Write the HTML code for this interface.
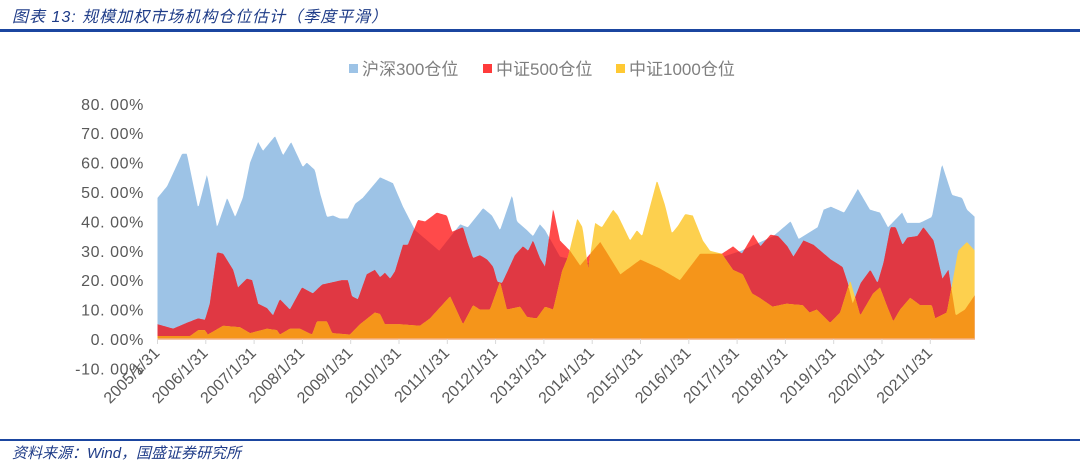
<!DOCTYPE html>
<html><head><meta charset="utf-8">
<style>
html,body{margin:0;padding:0;background:#fff;}
body{width:1080px;height:465px;position:relative;overflow:hidden;font-family:"Liberation Sans","Noto Sans CJK SC",sans-serif;}
.title{position:absolute;left:12px;top:3px;font-size:16px;font-style:italic;color:#1f3c88;letter-spacing:1px;}
.rule{position:absolute;left:0;width:1080px;background:#1b46a0;}
.src{position:absolute;left:12px;top:442px;font-size:15px;font-style:italic;color:#1f3c88;}
</style></head><body>
<div class="title">图表 13:  规模加权市场机构仓位估计（季度平滑）</div>
<div class="rule" style="top:29px;height:3px"></div>
<div class="rule" style="top:439px;height:2px"></div>
<div class="src">资料来源：Wind，国盛证券研究所</div>
<svg id="chart" width="1080" height="465" style="position:absolute;left:0;top:0"></svg>
<script>
const tickLabels=["2005/1/31","2006/1/31","2007/1/31","2008/1/31","2009/1/31","2010/1/31","2011/1/31","2012/1/31","2013/1/31","2014/1/31","2015/1/31","2016/1/31","2017/1/31","2018/1/31","2019/1/31","2020/1/31","2021/1/31"];
const yTicks=[-10,0,10,20,30,40,50,60,70,80];
const seriesNames=["沪深300仓位","中证500仓位","中证1000仓位"];
const hs300Months=[0,2.4,6.1,7.3,10.1,12.3,14.8,17.3,19.3,21.2,23,25,26.2,29.2,31.2,33.2,36.1,37.1,39.1,40.4,42.1,43.6,45.3,47.3,49.1,51,55.3,58.5,61,64,70,75.2,77.1,80.9,83.1,85.1,88.1,89.3,91.8,93.3,95,96.3,100,110,122,134,145,153,157.3,159.3,164,165.5,167.3,170.6,174,177,179.5,181.5,185,186.2,189.4,192.4,194.9,197.4,199.9,201.1,203.1];
const hs300Values=[48,52,63,63,44.5,56,38,48,41.5,48,60,67,64,69,62.5,67,58.5,60,57.5,49.5,41.5,42,41,41,46,48,55,53,45,37,30,39,38,44.5,42,37,49,40,37,35,39,37,28,25,22,25,30,35,40,34,38,44,45,43,51,44,43,38,43,39.5,39.5,41.5,59.5,49,48,44,41.5];
const csi500Months=[0,3.9,7.3,10.1,11.8,13,14.8,16.3,18.8,20,22.2,23.5,25,27.2,28.7,30.4,32.9,35.9,38.6,40.9,45.8,47.3,48.3,49.8,52,54,55.3,56.5,57.8,59,61,62.2,64.7,66.5,69.4,71.9,73.2,75.9,77.1,78.4,80.1,81.9,83.4,84.4,85.6,86.8,88.8,90.8,92.1,93.3,95,96.3,98.3,100,102.5,105,110,115,120,124.8,129.8,134.8,140.2,143,145.2,148,149.8,152.3,154.2,156.5,158,160.5,163,167.3,170.2,171.5,172.7,174.7,177.1,178.9,180.4,182.1,183.4,185.1,186.3,188.8,190.3,192.8,195,196.5,198.3,200.6,203.1];
const csi500Values=[5,3.5,5.5,7,6.5,12,29.5,29,23.5,17.5,20.5,20,12,10.5,8,13.5,10,17.5,15.5,18.5,20,20,14.5,13.5,22,23.5,21,22.5,20.5,23,32,32,40.5,40,43,42,36.5,38,32.5,27.5,28.5,27,24.5,19.5,19,22.5,28.5,31.5,30,33.5,27.5,24.5,44.5,33.5,30,25,33,22,27,24,20,29,29,31.5,29,35.5,31.5,35.5,35,31.5,28,33.5,32,27,24.5,19,12,19,23.5,19,26,38,38,32,34.5,35,38,33.5,20.5,23.5,8,10,15];
const csi1000Months=[0,8.1,10.1,11.8,12.5,16.3,20.5,23,27.2,29.7,30.4,32.9,35.4,38.4,39.6,42.1,43.4,47.8,50.3,54,55.3,56.5,60.4,65.2,67.7,72.7,75.9,78.4,80.1,82.6,85.1,86.8,90.1,91.8,94.2,96.3,98.3,100.5,102,104.3,105.6,107,108.7,110.4,113.2,114.4,117.4,119.1,120.4,124.1,126.1,127.8,129.3,131.1,133,135.5,137.3,140.2,143,145.4,147.7,149.6,152.8,156.3,160.3,162,163.8,167.1,169.6,172.1,174.6,177.8,179.5,181.3,182.8,184.5,187,189.5,192.4,193.2,196.1,197.6,198.9,201.1,203.1];
const csi1000Values=[1,1,3,3,1.5,4.5,4,2,3.5,3,1.5,3.5,3.5,1.5,6,6,2,1.5,5,9,8.5,5,5,4.5,7,14.5,5,11.5,10,10,19.5,10,11,7.5,7,11,10,23,28,41,38,24,39.5,38,44,42,33.5,37,35,54,45.5,36,38.5,42.5,42,33.5,30,29,23.5,22,15.5,14,11,12,11.5,9,10,5.5,9,20,8,15.5,17.5,11,6,10,14,11.5,11.5,7,9,20,30,33,30];

const svg=document.getElementById('chart');
const NS='http://www.w3.org/2000/svg';
const X0=157.5,PXM=4.025,Y0=339,PXV=2.94;
function xs(m){return X0+m*PXM;}
function ys(v){return Y0-v*PXV;}
function interp(ms,vs,m){
  if(m<=ms[0])return vs[0];
  for(let i=1;i<ms.length;i++){if(m<=ms[i]){const t=(m-ms[i-1])/(ms[i]-ms[i-1]);return vs[i-1]+t*(vs[i]-vs[i-1]);}}
  return vs[vs.length-1];
}
const endM=hs300Months[hs300Months.length-1];
const grid=[];for(let m=0;m<=endM+1e-9;m+=0.25)grid.push(m);
function areaPath(fn){
  let d='M'+xs(grid[0])+','+ys(0);
  grid.forEach(m=>{d+='L'+xs(m).toFixed(2)+','+ys(fn(m)).toFixed(2);});
  d+='L'+xs(grid[grid.length-1])+','+ys(0)+'Z';return d;
}
function addPath(d,fill,name){
  const p=document.createElementNS(NS,'path');
  p.setAttribute('d',d);p.setAttribute('fill',fill);
  
  
  svg.appendChild(p);
}
const fB=m=>interp(hs300Months,hs300Values,m);
const fR=m=>interp(csi500Months,csi500Values,m);
const fY=m=>interp(csi1000Months,csi1000Values,m);
addPath(areaPath(fB),'#9dc3e6','hs300-area');
addPath(areaPath(fR),'#ff4a4a','csi500-area');
addPath(areaPath(m=>Math.min(fB(m),fR(m))),'#e03843','csi500-over-hs300');
addPath(areaPath(fY),'#fdd04e','csi1000-area');
addPath(areaPath(m=>Math.min(fY(m),fR(m))),'#f5951a','csi1000-over-csi500');

function addEl(tag,attrs,text){
  const e=document.createElementNS(NS,tag);
  for(const k in attrs)e.setAttribute(k,attrs[k]);
  if(text!==undefined)e.textContent=text;
  svg.appendChild(e);return e;
}
// x axis
const ax=addEl('line',{x1:xs(0),x2:xs(endM),y1:Y0,y2:Y0,stroke:'#f4b183','stroke-width':1.5});


tickLabels.forEach((lab,i)=>{
  const x=xs(i*12);
  const t=addEl('line',{x1:x,x2:x,y1:Y0,y2:Y0+5,stroke:'#d9d9d9','stroke-width':1});
  
  
  const tx=addEl('text',{x:x+3,y:Y0+15,'text-anchor':'end','font-size':'16','fill':'#595959',transform:'rotate(-45 '+(x+3)+' '+(Y0+15)+')','font-family':'Liberation Sans, sans-serif'},lab);
  
  
});
yTicks.forEach(v=>{
  const t=addEl('text',{x:144,y:ys(v)+6,'text-anchor':'end','font-size':'16','fill':'#595959','letter-spacing':'0.6','font-family':'Liberation Sans, sans-serif'},v.toFixed(2).replace('.','. ')+'%');
  
  
});
// legend
const legColors=['#9dc3e6','#ff3b3b','#ffc933'];
const legX=[349,483,616];
seriesNames.forEach((n,i)=>{
  const r=addEl('rect',{x:legX[i],y:64,width:9,height:9,fill:legColors[i]});
  
  
  const t=addEl('text',{x:legX[i]+13,y:75,'font-size':'17','fill':'#7f7f7f','font-family':'Liberation Sans, Noto Sans CJK SC, sans-serif'},n);
  
  
});
</script>
</body></html>
